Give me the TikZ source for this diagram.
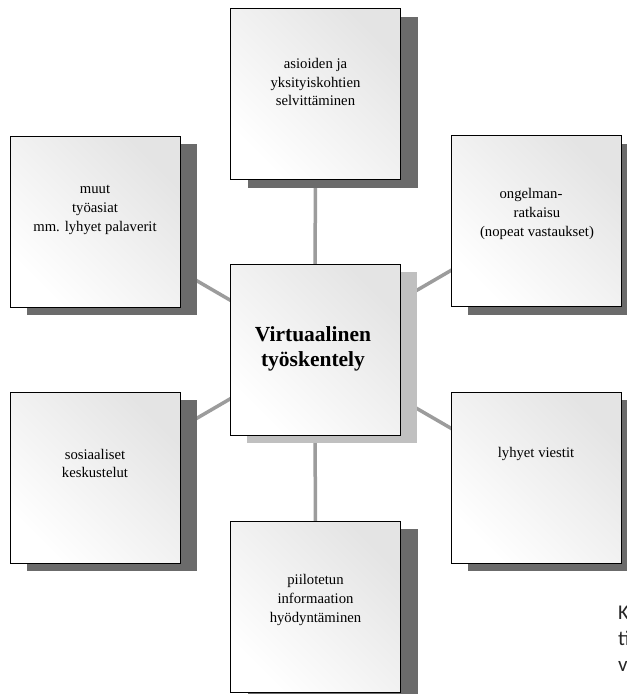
\documentclass[tikz,border=0pt]{standalone}
\usepackage{fontspec}
\setmainfont{Liberation Serif}
\newfontfamily\sidefont{Carlito}
\usetikzlibrary{shadows,backgrounds}

\definecolor{linkgray}{HTML}{9C9C9C}
\definecolor{shadowdark}{HTML}{6B6B6B}
\definecolor{shadowlight}{HTML}{C0C0C0}
\definecolor{boxtint}{HTML}{E4E4E4}

\tikzset{
  topicbox/.style={draw=black, line width=0.9pt, minimum width=170pt,
    minimum height=171pt, inner sep=0pt,
    shading=axis, top color=boxtint, middle color=white!98!black,
    bottom color=white, shading angle=-45,
    general shadow={shadow xshift=17pt, shadow yshift=-8pt, fill=#1}},
  topicbox/.default=shadowdark,
  topictext/.style={align=center, inner sep=0pt,
    font=\fontsize{14.7pt}{18.6pt}\selectfont},
  hubtext/.style={align=center, inner sep=0pt,
    font=\fontsize{21.5pt}{25pt}\selectfont\bfseries},
  link/.style={draw=linkgray, line width=3.5pt},
  sidetext/.style={anchor=base west, inner sep=0pt,
    font=\fontsize{21pt}{26pt}\selectfont\sidefont, text=black!85}
}

\begin{document}
\begin{tikzpicture}[x=1pt, y=-1pt]
  \useasboundingbox (0,0) rectangle (627,694);

  % boxes
  \node[topicbox] (top) at (315.5,94) {};
  \node[topicbox] (upleft) at (95,221.5) {};
  \node[topicbox] (upright) at (536,221) {};
  \node[topicbox=shadowlight] (hub) at (315,349.5) {};
  \node[topicbox] (lowleft) at (95,477.5) {};
  \node[topicbox] (lowright) at (536,477.5) {};
  \node[topicbox] (bottom) at (315.5,606.5) {};

  % white page and the connectors from the hub, behind every box
  \begin{scope}[on background layer]
    \fill[white] (0,0) rectangle (627,694);
    \foreach \n in {top,upleft,upright,lowleft,lowright,bottom}
      \draw[link] (hub.center) -- (\n.center);
  \end{scope}

  % texts
  \node[topictext] (top-t) at (315.5,82) {asioiden ja\\yksityiskohtien\\selvittäminen};
  \node[topictext] (upleft-t) at (95,210) {muut\\työasiat\\mm. lyhyet palaverit};
  \node[topictext] (upright-t) at (537,214) {ongelman-\hspace*{12pt}\\ratkaisu\hspace*{30pt}\\(nopeat vastaukset)};
  \node[hubtext] (hub-t) at (313,349) {Virtuaalinen\\työskentely};
  \node[topictext] (lowleft-t) at (95,463.5) {sosiaaliset\\keskustelut};
  \node[topictext] (lowright-t) at (536,453.5) {lyhyet viestit};
  \node[topictext] (bottom-t) at (315.5,600) {piilotetun\\informaation\\hyödyntäminen};

  % text running in from the right margin
  \node[sidetext] (side1) at (618,619) {K};
  \node[sidetext] (side2) at (618,645) {ti};
  \node[sidetext] (side3) at (618,671) {v};
\end{tikzpicture}
\end{document}
